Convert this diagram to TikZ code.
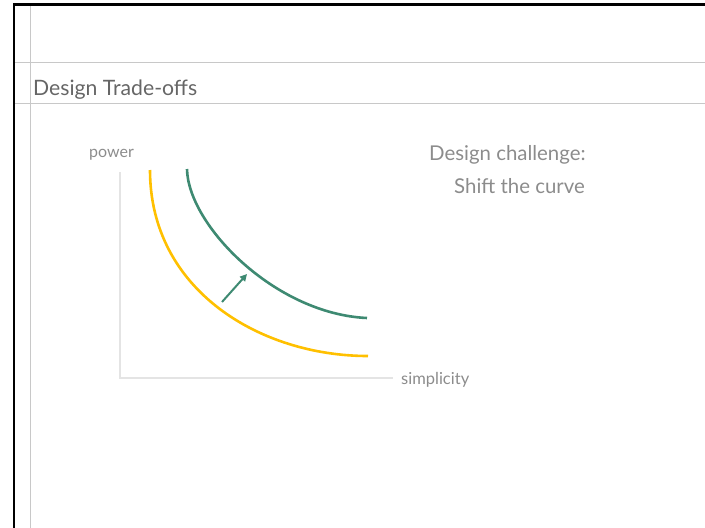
\documentclass[tikz,border=0pt]{standalone}
\usepackage{fontspec}
\setmainfont{Lato}
\usetikzlibrary{arrows.meta}
\definecolor{gold}{HTML}{FFC000}
\definecolor{teal}{HTML}{3E8A72}
\definecolor{rule}{HTML}{C8C8C8}
\definecolor{axisgray}{HTML}{E4E4E4}
\definecolor{titlegray}{HTML}{666666}
\definecolor{textgray}{HTML}{8C8C8C}
\tikzset{
  guide/.style={draw=rule, line width=1pt},
  frame/.style={draw=black, line width=2.5pt},
  axisline/.style={draw=axisgray, line width=2.5pt},
  curveA/.style={draw=gold, line width=2.6pt},
  curveB/.style={draw=teal, line width=2.6pt},
  shiftarrow/.style={draw=teal, line width=2pt, -{Triangle[length=7pt,width=7pt]}},
  lbl/.style={inner sep=0pt, anchor=base west},
}
\begin{document}
\begin{tikzpicture}[x=1pt,y=-1pt]
\useasboundingbox (0,0) rectangle (705,528);
% slide guides
\draw[guide] (30.5,4.5) -- (30.5,528);
\draw[guide] (14,62.3) -- (705,62.3);
\draw[guide] (14,103.3) -- (705,103.3);
\draw[frame] (14,528) -- (14,4.5) -- (705,4.5);
% title
\node[lbl, text=titlegray, font=\fontsize{21.2}{24}\selectfont] (title) at (33,95) {Design Trade-offs};
% axes
\coordinate (top) at (120,172);
\coordinate (origin) at (120,378);
\coordinate (right) at (393,378);
\draw[axisline] (top) -- (origin) -- (right);
\node[lbl, text=textgray, font=\fontsize{16}{19}\selectfont] (power) at (89,157) {power};
\node[lbl, text=textgray, font=\fontsize{16.5}{19}\selectfont] (simp) at (401,384) {simplicity};
% curves
\coordinate (y0) at (150,170);
\coordinate (y1) at (368,356);
\draw[curveA] (y0) .. controls (150,290) and (260,356) .. (y1);
\coordinate (g0) at (187,169);
\coordinate (g1) at (367,318);
\draw[curveB] (g0) .. controls (188,225) and (275,314) .. (g1);
% arrow
\coordinate (a0) at (222,302);
\coordinate (a1) at (247,274);
\draw[shiftarrow] (a0) -- (a1);
% challenge text
\node[lbl, text=textgray, font=\fontsize{20.4}{24}\selectfont] (ch1) at (429,160) {Design challenge:};
\node[lbl, text=textgray, font=\fontsize{20.4}{24}\selectfont] (ch2) at (454,193) {Shift the curve};
\end{tikzpicture}
\end{document}
